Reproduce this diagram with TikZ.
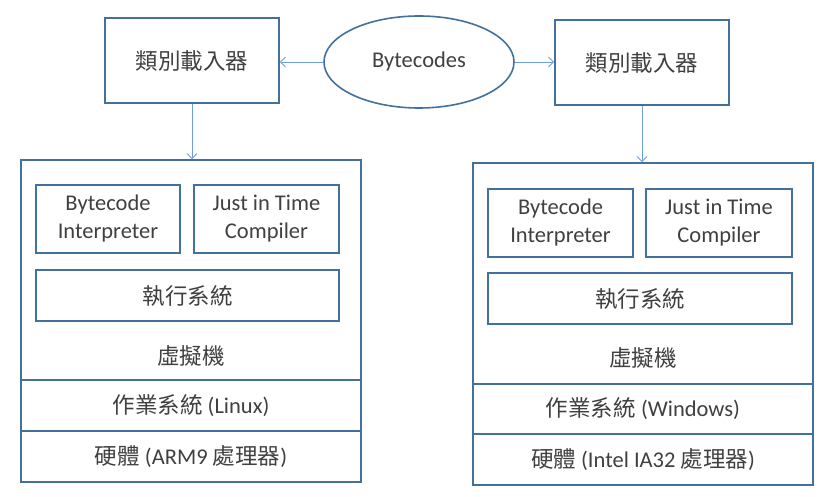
\documentclass[tikz,border=0pt]{standalone}
\usepackage{fontspec}
\setmainfont{Carlito}
\newfontfamily\cjk{Noto Sans CJK TC}
\usetikzlibrary{arrows.meta,shapes.geometric}
\definecolor{bord}{HTML}{41719C}
\definecolor{arr}{HTML}{6F9FD8}
\definecolor{txt}{HTML}{404040}
\tikzset{
  box/.style={draw=bord, line width=1.6pt, fill=white, text=txt, inner sep=0pt, align=center, font=\fontsize{22.5}{28}\selectfont},
  lbl/.style={text=txt, inner sep=0pt, font=\fontsize{22.5}{28}\selectfont},
  conn/.style={draw=arr, line width=0.9pt, -{Straight Barb[length=5pt,width=10pt]}}
}
\begin{document}
\begin{tikzpicture}[x=1pt,y=-1pt]
\path[fill=white] (0,0) rectangle (832,497);
\useasboundingbox (0,0) rectangle (832,497);
% top row
\node[box, minimum width=174pt, minimum height=85pt] (lL) at (192,60.5) {{\cjk 類別載入器}};
\node[box, minimum width=174pt, minimum height=85pt] (lR) at (642,62.5) {{\cjk 類別載入器}};
\node[box, ellipse, minimum width=190pt, minimum height=92pt] (bc) at (419,62) {Bytecodes};
% left stack
\node[box, minimum width=340pt, minimum height=220pt] (vmL) at (191,270) {};
\node[box, minimum width=340pt, minimum height=51pt] (osL) at (191,405.5) {{\cjk 作業系統} (Linux)};
\node[box, minimum width=340pt, minimum height=51pt] (hwL) at (191,456.5) {{\cjk 硬體} (ARM9 {\cjk 處理器})};
\node[box, minimum width=144pt, minimum height=68pt] (biL) at (108,219) {Bytecode\\Interpreter};
\node[box, minimum width=145pt, minimum height=68pt] (jitL) at (266.5,219) {Just in Time\\Compiler};
\node[box, minimum width=303pt, minimum height=51pt] (rtL) at (187.5,295.5) {{\cjk 執行系統}};
\node[lbl] (vmtL) at (191,356) {{\cjk 虛擬機}};
% right stack
\node[box, minimum width=340pt, minimum height=221pt] (vmR) at (643,273.5) {};
\node[box, minimum width=340pt, minimum height=50pt] (osR) at (643,409) {{\cjk 作業系統} (Windows)};
\node[box, minimum width=340pt, minimum height=51pt] (hwR) at (643,459.5) {{\cjk 硬體} (Intel IA32 {\cjk 處理器})};
\node[box, minimum width=145pt, minimum height=68pt] (biR) at (560.5,223) {Bytecode\\Interpreter};
\node[box, minimum width=146pt, minimum height=68pt] (jitR) at (719,223) {Just in Time\\Compiler};
\node[box, minimum width=304pt, minimum height=51pt] (rtR) at (640,298.5) {{\cjk 執行系統}};
\node[lbl] (vmtR) at (643,358) {{\cjk 虛擬機}};
% connectors
\draw[conn] (bc.west) -- (bc.west -| lL.east);
\draw[conn] (bc.east) -- (bc.east -| lR.west);
\draw[conn] (lL.south) -- (lL.south |- vmL.north);
\draw[conn] (lR.south) -- (lR.south |- vmR.north);
\end{tikzpicture}
\end{document}
